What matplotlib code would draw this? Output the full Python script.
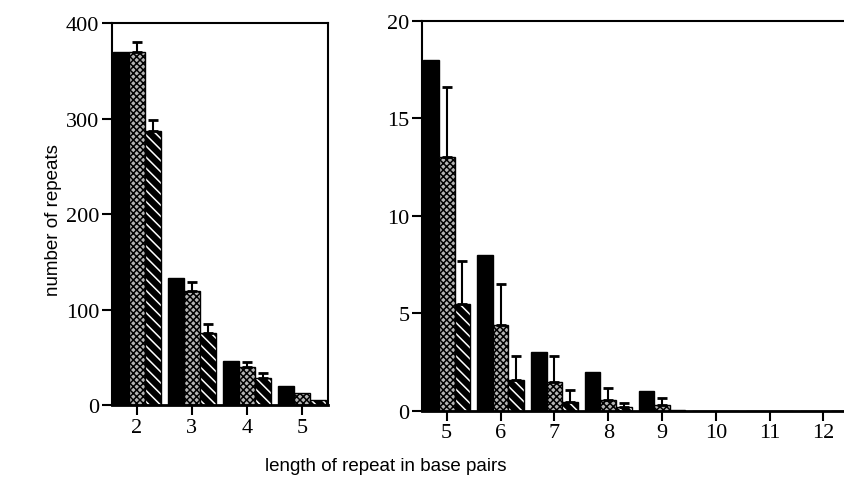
import numpy as np
import matplotlib
matplotlib.use("Agg")
import matplotlib.pyplot as plt

# repeat lengths (bp) shown in each panel
lengths_left = [2, 3, 4, 5]
lengths_right = [5, 6, 7, 8, 9, 10, 11, 12]

# left panel: observed (black), stippled series with error, hatched series with error
black_left = [370, 133, 46, 20]
stip_left = [370, 119, 40, 13]
stip_left_err = [10, 10, 5, 0]
hatch_left = [287, 75, 28, 5]
hatch_left_err = [11, 10, 6, 0]

# right panel
black_right = [18, 8, 3, 2, 1.05, 0, 0, 0]
stip_right = [13, 4.4, 1.5, 0.55, 0.3, 0, 0, 0]
stip_right_err = [3.6, 2.1, 1.3, 0.65, 0.35, 0, 0, 0]
hatch_right = [5.5, 1.6, 0.45, 0.2, 0.05, 0, 0, 0]
hatch_right_err = [2.2, 1.2, 0.65, 0.2, 0, 0, 0, 0]

plt.rcParams['hatch.linewidth'] = 1.1

fig = plt.figure(figsize=(8.45, 4.89), dpi=100)
axL = fig.add_axes([0.1325, 0.1697, 0.2556, 0.781])
axR = fig.add_axes([0.4994, 0.1575, 0.5006, 0.7975])

w = 0.29


def draw(ax, x, blk, stp, stp_e, hat, hat_e):
    x = np.array(x, dtype=float)
    ax.bar(x - w, blk, w, color='black', edgecolor='black', linewidth=1)
    # hatch colour follows edgecolor, so fill first and outline after
    ax.bar(x, stp, w, facecolor='#b4b4b4', edgecolor='black', linewidth=0,
           hatch='xxxxx')
    ax.bar(x, stp, w, fill=False, edgecolor='black', linewidth=1)
    ax.bar(x + w, hat, w, facecolor='black', edgecolor='white', linewidth=0,
           hatch='\\\\\\')
    ax.bar(x + w, hat, w, fill=False, edgecolor='black', linewidth=1)
    for off, vals, err in [(0, stp, stp_e), (w, hat, hat_e)]:
        vals = np.array(vals, dtype=float)
        err = np.array(err, dtype=float)
        m = err > 0
        ax.errorbar(x[m] + off, vals[m], yerr=[np.zeros(m.sum()), err[m]],
                    fmt='none', ecolor='black', elinewidth=1.5,
                    capsize=3.5, capthick=2)


draw(axL, lengths_left, black_left, stip_left, stip_left_err, hatch_left, hatch_left_err)
draw(axR, lengths_right, black_right, stip_right, stip_right_err, hatch_right, hatch_right_err)

axL.set_xlim(1.55, 5.47)
axL.set_ylim(0, 400)
axL.set_yticks([0, 100, 200, 300, 400])
axL.set_xticks(lengths_left)

axR.set_xlim(4.54, 12.4)
axR.set_ylim(0, 20)
axR.set_yticks([0, 5, 10, 15, 20])
axR.set_xticks(lengths_right)
axR.spines['right'].set_visible(False)

for ax in (axL, axR):
    for s in ax.spines.values():
        s.set_linewidth(1.5)
    ax.spines['bottom'].set_linewidth(2)
    ax.tick_params(direction='out', length=7, width=1.5, pad=2)
    for lab in ax.get_xticklabels() + ax.get_yticklabels():
        lab.set_fontfamily('Liberation Serif')
        lab.set_fontsize(16)

fig.text(0.063, 0.55, 'number of repeats', rotation=90, ha='center', va='center',
         fontsize=13.5, family='Liberation Sans')
fig.text(0.457, 0.045, 'length of repeat in base pairs', ha='center', va='center',
         fontsize=13.5, family='Liberation Sans')

fig.savefig('out.png', dpi=100)
